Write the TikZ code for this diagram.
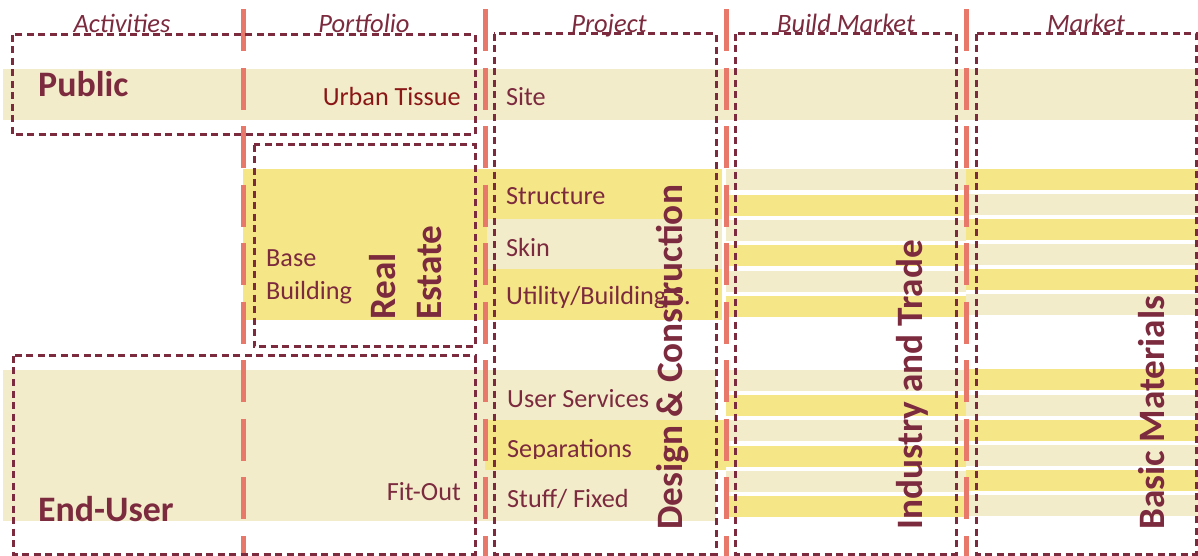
\documentclass[tikz,border=0pt]{standalone}
\usepackage{fontspec}
\setmainfont{Carlito}
\definecolor{wine}{RGB}{124,42,62}
\definecolor{rust}{RGB}{139,22,22}
\definecolor{salmon}{RGB}{232,120,106}
\definecolor{lemon}{RGB}{245,230,135}
\definecolor{sand}{RGB}{242,236,203}
\tikzset{
  txt/.style = {inner sep = 0, text = wine, font = \fontsize{26.3}{33}\selectfont, anchor = base west},
  hdr/.style = {inner sep = 0, text = wine, font = \fontsize{26.6}{33}\selectfont\itshape, anchor = base},
  big/.style = {inner sep = 0, text = wine, font = \fontsize{36}{46}\selectfont\bfseries, anchor = base west},
  vbig/.style = {big, font = \fontsize{37.4}{46}\selectfont\bfseries, rotate = 90},
  zone/.style = {draw = wine, line width = 3bp, dash pattern = on 7bp off 4.5bp},
  divider/.style = {draw = salmon, line width = 5bp, dash pattern = on 42bp off 16.5bp}
}
\begin{document}
\begin{tikzpicture} [x = 1bp, y = -1bp]
        \useasboundingbox (0,0) rectangle (1198,556);

        % bands
        \fill [sand] (3,69) rectangle (1198,120);
        \fill [lemon] (243,169) rectangle (487,320);
        \fill [lemon] (485,169) rectangle (722,219);
        \fill [sand] (487,219) rectangle (722,269);
        \fill [lemon] (485,269) rectangle (722,320);
        \fill [sand] (3,370) rectangle (487,521);
        \fill [sand] (485,370) rectangle (716,420);
        \fill [lemon] (485,420) rectangle (726,470);
        \fill [sand] (485,470) rectangle (716,521);

        % stripes
        \foreach \k in {0,...,5} {
            \ifodd\k \def\ca{lemon}\def\cb{sand}\else \def\ca{sand}\def\cb{lemon}\fi
            \fill [\ca] (726,169.5+25.3*\k) rectangle ++(240,21);
            \fill [\cb] (966,169.3+25*\k) rectangle ++(232,21);
            \fill [\ca] (726,370+25.2*\k) rectangle ++(240,21);
            \fill [\cb] (966,369.5+25.1*\k) rectangle ++(232,21);
        }

        \foreach \x in {243,485,726,966}
            \draw [divider] (\x,9.3) -- (\x,556);

        % zones
        \draw [zone] (12,35) rectangle (475,135);
        \draw [zone] (254,145) rectangle (475,347);
        \draw [zone] (13,356) rectangle (475,554);
        \draw [zone] (494,34) rectangle (716,554);
        \draw [zone] (735,34) rectangle (956,554);
        \draw [zone] (976,34) rectangle (1196,554);

        \node [hdr] (activities) at (122,33) {Activities};
        \node [hdr] (portfolio) at (364,33) {Portfolio};
        \node [hdr] (project) at (609,33) {Project};
        \node [hdr] (buildmarket) at (846,33) {Build Market};
        \node [hdr] (market) at (1086,33) {Market};

        \node [big] (public) at (38,97) {Public};
        \node [txt, anchor = base east, text = rust] (tissue) at (461,106) {Urban Tissue};
        \node [txt] (site) at (506,106) {Site};

        \node [txt] (base) at (266,267) {Base};
        \node [txt] (building) at (266,300) {Building};
        \node [vbig] (real) at (395,320) {Real};
        \node [vbig] (estate) at (441,320) {Estate};
        \node [txt] (structure) at (506,205) {Structure};
        \node [txt] (skin) at (506,257) {Skin};
        \begin{scope}
            \clip (485,269) rectangle (722,307.5);
            \node [txt] (utility) at (506,305) {Utility/Building S.};
        \end{scope}

        \node [txt] (services) at (507,407) {User Services};
        \begin{scope}
            \clip (485,420) rectangle (726,458);
            \node [txt] (separations) at (507,457) {Separations};
        \end{scope}
        \node [txt] (stuff) at (507,507) {Stuff/ Fixed};
        \node [txt, anchor = base east] (fitout) at (461,500) {Fit-Out};
        \node [big] (enduser) at (38,521) {End-User};

        \node [vbig] (design) at (682,530) {Design \& Construction};
        \node [vbig] (industry) at (922,530) {Industry and Trade};
        \node [vbig] (materials) at (1164,530) {Basic Materials};

    \end{tikzpicture}
\end{document}
